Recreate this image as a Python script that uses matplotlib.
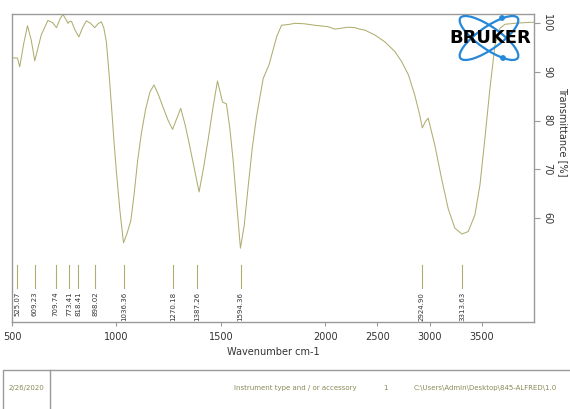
import numpy as np
import matplotlib

matplotlib.use("Agg")
import matplotlib.pyplot as plt
from matplotlib.patches import Ellipse, Circle, Rectangle
from matplotlib.lines import Line2D

# spectrum (wavenumber cm-1, transmittance %)
wavenumber = [
    500, 526, 537, 555, 574, 592, 609, 640, 672, 695, 713, 730, 744, 757, 768,
    777, 785, 802, 820, 838, 856, 876, 896, 912, 928, 940, 952, 964, 976, 988,
    1000, 1017, 1034, 1050, 1069, 1085, 1102, 1120, 1139, 1160, 1180, 1202,
    1223, 1246, 1269, 1288, 1308, 1330, 1352, 1374, 1396, 1418, 1439, 1462,
    1484, 1496, 1508, 1527, 1543, 1559, 1577, 1594, 1612, 1631, 1651, 1671,
    1703, 1731, 1767, 1791, 1831, 1855, 1900, 1950, 2028, 2093, 2157, 2220,
    2284, 2332, 2380, 2476, 2572, 2668, 2734, 2798, 2858, 2906, 2930, 2960,
    2986, 3050, 3114, 3178, 3242, 3310, 3370, 3434, 3482, 3530, 3578, 3626,
    3674, 3722, 3818, 3962, 4000,
]
transmittance = [
    92.8, 92.8, 91.0, 95.5, 99.4, 96.5, 92.2, 97.5, 100.5, 100.0, 99.0, 100.8,
    101.7, 100.8, 99.9, 100.3, 100.3, 98.5, 97.1, 99.0, 100.4, 99.9, 99.0,
    99.8, 100.2, 98.9, 96.1, 90.0, 83.2, 76.0, 69.5, 61.5, 55.0, 56.8, 59.5,
    65.0, 71.9, 77.5, 82.1, 85.8, 87.3, 85.2, 82.8, 80.2, 78.2, 80.3, 82.5,
    79.0, 74.6, 70.0, 65.4, 70.5, 76.0, 82.5, 88.1, 86.0, 83.8, 83.4, 78.5,
    71.9, 62.5, 53.9, 58.5, 66.5, 74.5, 80.8, 88.6, 91.4, 97.1, 99.5, 99.7,
    99.9, 99.8, 99.5, 99.2, 98.7, 98.9, 99.1, 99.0, 98.7, 98.5, 97.5, 96.1,
    94.1, 92.0, 89.3, 85.2, 81.1, 78.5, 79.8, 80.5, 75.0, 68.2, 62.0, 58.0,
    56.8, 57.3, 60.7, 66.8, 76.4, 86.6, 95.4, 98.9, 99.7, 99.9, 100.1, 100.1,
]

peak_positions = [525.07, 609.23, 709.74, 773.41, 818.41, 898.02, 1036.36,
                  1270.18, 1387.26, 1594.36, 2924.90, 3313.63]
peak_labels = [f"{p:.2f}" for p in peak_positions]

x_ticks = [500, 1000, 1500, 2000, 2500, 3000, 3500]
y_ticks = [60, 70, 80, 90, 100]

LINE = "#b0ad70"
GRID = "#9a9a9a"
W, H = 570, 409


def fwd(x):
    x = np.asarray(x, dtype=float)
    return np.where(x <= 2000, x, 2000 + (x - 2000) / 2)


def inv(u):
    u = np.asarray(u, dtype=float)
    return np.where(u <= 2000, u, 2000 + (u - 2000) * 2)


plt.rcParams["font.family"] = "DejaVu Sans"
fig = plt.figure(figsize=(W / 100, H / 100), dpi=100)
ax = fig.add_axes([12 / W, (H - 322) / H, 522 / W, 308 / H])

ax.set_xscale("function", functions=(fwd, inv))
ax.plot(wavenumber, transmittance, color=LINE, linewidth=0.75)

for pos, lab in zip(peak_positions, peak_labels):
    ax.plot([pos, pos], [45.7, 50.4], color=LINE, linewidth=0.8)
    ax.text(pos, 45.0, lab, rotation=90, ha="center", va="top",
            fontsize=5, color="#333333")

ax.set_xlim(500, 4000)
ax.set_ylim(38.8, 101.8)
ax.set_xticks(x_ticks)
ax.set_xticklabels([str(t) for t in x_ticks])
ax.minorticks_off()
ax.yaxis.tick_right()
ax.set_yticks(y_ticks)
ax.set_yticklabels([str(t) for t in y_ticks], rotation=270, va="center")
ax.tick_params(axis="x", direction="out", length=3, width=0.8, color=GRID,
               labelsize=7, labelcolor="#333333", pad=4)
ax.tick_params(axis="y", direction="out", length=4, width=0.8, color=GRID,
               labelsize=7, labelcolor="#333333", pad=2)
for sp in ax.spines.values():
    sp.set_color(GRID)
    sp.set_linewidth(1.0)

fig.text(273 / W, 1 - 352 / H, "Wavenumber cm-1", ha="center", va="center",
         fontsize=7, color="#333333")
fig.text(563 / W, 1 - 132 / H, "Transmittance [%]", ha="center", va="center",
         rotation=270, fontsize=7, color="#333333")

# logo
lg = fig.add_axes([445 / W, (H - 62) / H, 90 / W, 48 / H])
lg.set_xlim(0, 90)
lg.set_ylim(0, 48)
lg.axis("off")
for ang in (35, -35):
    lg.add_patch(Ellipse((44, 24), 70, 22, angle=ang, fill=False,
                         ec="#2588d8", lw=1.6))
lg.add_patch(Circle((57, 44), 2.2, color="#2588d8"))
lg.add_patch(Circle((58, 4), 2.2, color="#2588d8"))
lg.text(45, 24, "BRUKER", ha="center", va="center", fontsize=13,
        fontweight="heavy", color="black")

# footer box
fig.add_artist(Rectangle((3 / W, -0.05), 1.0, (H - 370) / H + 0.05,
                         transform=fig.transFigure, fill=False, ec=GRID, lw=1.0))
fig.add_artist(Line2D([50 / W, 50 / W], [-0.05, (H - 370) / H],
                      transform=fig.transFigure, color=GRID, lw=1.0))
FOOT = "#8a8a58"
fig.text(26 / W, 1 - 388 / H, "2/26/2020", ha="center", va="center",
         fontsize=5, color=FOOT)
fig.text(295 / W, 1 - 388 / H, "Instrument type and / or accessory",
         ha="center", va="center", fontsize=5, color=FOOT)
fig.text(385 / W, 1 - 388 / H, "1", ha="center", va="center",
         fontsize=5, color=FOOT)
fig.text(485 / W, 1 - 388 / H, "C:\\Users\\Admin\\Desktop\\845-ALFRED\\1.0",
         ha="center", va="center", fontsize=5, color=FOOT)

fig.savefig("out.png", dpi=100)
